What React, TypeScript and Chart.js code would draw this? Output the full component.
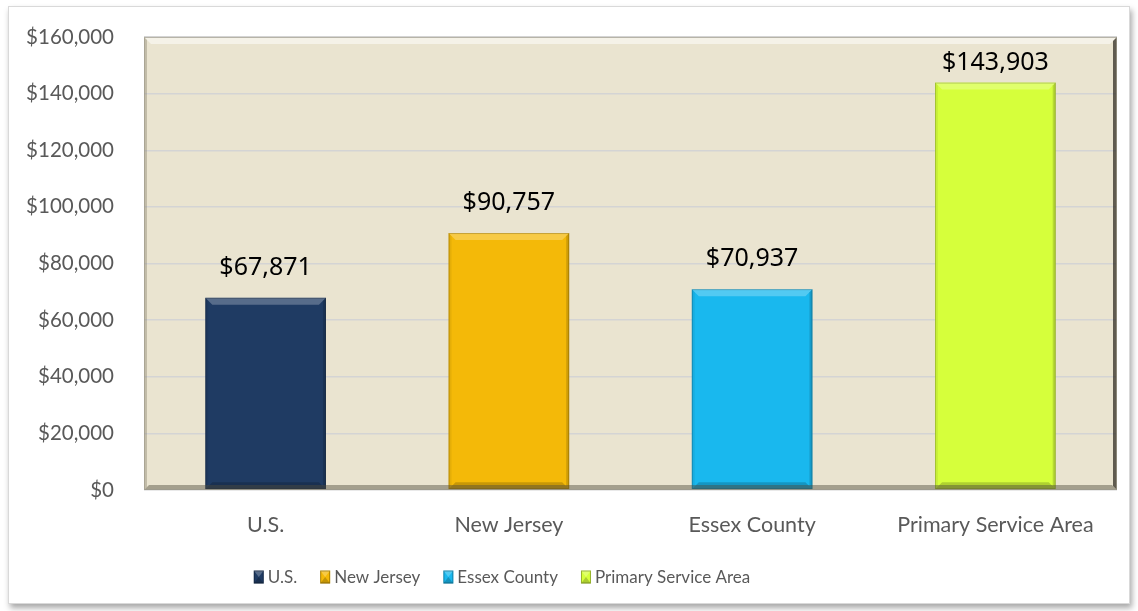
import React, { useEffect, useRef } from "react";
import { Chart, registerables } from "chart.js";

Chart.register(...registerables);

const categories = ["U.S.", "New Jersey", "Essex County", "Primary Service Area"];
const incomeValues = [67871, 90757, 70937, 143903];
const barColors = ["#1F3B63", "#F4B908", "#19B8EE", "#D6FF3B"];
const yTickMax = 160000;
const yTickStep = 20000;

const fmt = (v: number) => "$" + Number(v).toLocaleString("en-US");

const poly = (ctx: any, pts: number[][], color: string) => {
  ctx.beginPath();
  ctx.moveTo(pts[0][0], pts[0][1]);
  for (let i = 1; i < pts.length; i++) ctx.lineTo(pts[i][0], pts[i][1]);
  ctx.closePath();
  ctx.fillStyle = color;
  ctx.fill();
};

const plotBgPlugin = {
  id: "plotBg",
  beforeDraw(chart: any) {
    const { ctx, chartArea: a } = chart;
    ctx.save();
    ctx.fillStyle = "#EAE4D0";
    ctx.fillRect(a.left, a.top, a.right - a.left, a.bottom - a.top);
    ctx.restore();
  },
  afterDraw(chart: any) {
    const { ctx, chartArea: a } = chart;
    const b = 7;
    const L = a.left, R = a.right, T = a.top, B = a.bottom;
    ctx.save();
    poly(ctx, [[L, T], [R, T], [R - b, T + b], [L + b, T + b]], "rgba(255,255,255,0.5)");
    poly(ctx, [[L, T], [L + 3, T + 3], [L + 3, B - 3], [L, B]], "rgba(120,115,95,0.35)");
    poly(ctx, [[R, T], [R, B], [R - 4, B - 4], [R - 4, T + 4]], "rgba(50,46,38,0.75)");
    poly(ctx, [[L, B], [R, B], [R - 5, B - 5], [L + 5, B - 5]], "rgba(80,76,60,0.45)");
    ctx.strokeStyle = "rgba(160,155,140,0.7)";
    ctx.lineWidth = 1;
    ctx.strokeRect(L + 0.5, T + 0.5, R - L - 1, B - T - 1);
    ctx.restore();
  },
};

const barBevelPlugin = {
  id: "barBevel",
  afterDatasetsDraw(chart: any) {
    const { ctx } = chart;
    const meta = chart.getDatasetMeta(0);
    ctx.save();
    meta.data.forEach((el: any) => {
      const p = el.getProps(["x", "y", "base", "width"], true);
      const L = p.x - p.width / 2, R = p.x + p.width / 2, T = p.y, B = p.base;
      const b = 7;
      poly(ctx, [[L, T], [R, T], [R - b, T + b], [L + b, T + b]], "rgba(255,255,255,0.25)");
      poly(ctx, [[R, T], [R, B], [R - 3, B - 3], [R - 3, T + 3]], "rgba(0,0,0,0.15)");
      poly(ctx, [[L, T], [L + 3, T + 3], [L + 3, B - 3], [L, B]], "rgba(0,0,0,0.06)");
      poly(ctx, [[L, B], [R, B], [R - b, B - b], [L + b, B - b]], "rgba(0,0,0,0.18)");
      ctx.strokeStyle = "rgba(0,0,0,0.2)";
      ctx.lineWidth = 1;
      ctx.strokeRect(L + 0.5, T + 0.5, R - L - 1, B - T - 1);
    });
    ctx.restore();
  },
};

const dataLabelPlugin = {
  id: "dataLabels",
  afterDraw(chart: any) {
    const { ctx, chartArea } = chart;
    const meta = chart.getDatasetMeta(0);
    const vals = chart.data.datasets[0].data;
    ctx.save();
    ctx.font = "25px 'Noto Sans'";
    ctx.fillStyle = "#000000";
    ctx.textAlign = "center";
    ctx.textBaseline = "middle";
    meta.data.forEach((el: any, i: number) => {
      const y = Math.max(el.y - 30, chartArea.top + 26);
      ctx.fillText(fmt(vals[i]), el.x, y);
    });
    ctx.restore();
  },
};

const legendCenterX = 493;
const legendCenterY = 570;

const customLegendPlugin = {
  id: "customLegend",
  afterDraw(chart: any) {
    const { ctx } = chart;
    ctx.save();
    ctx.font = "17px Lato";
    ctx.textBaseline = "middle";
    ctx.textAlign = "left";
    const boxW = 10, boxH = 13, gapText = 4, gapItem = 23;
    const widths = categories.map((c) => ctx.measureText(c).width);
    const total =
      widths.reduce((s, w) => s + w, 0) + categories.length * (boxW + gapText) + (categories.length - 1) * gapItem;
    let x = legendCenterX - total / 2;
    const y = legendCenterY;
    categories.forEach((c, i) => {
      const bx = x, by = y - boxH / 2;
      ctx.fillStyle = barColors[i];
      ctx.fillRect(bx, by, boxW, boxH);
      poly(ctx, [[bx, by], [bx + boxW, by], [bx + boxW / 2, by + boxH / 2]], "rgba(255,255,255,0.25)");
      poly(ctx, [[bx, by + boxH], [bx + boxW, by + boxH], [bx + boxW / 2, by + boxH / 2]], "rgba(0,0,0,0.2)");
      ctx.strokeStyle = "rgba(0,0,0,0.3)";
      ctx.lineWidth = 1;
      ctx.strokeRect(bx + 0.5, by + 0.5, boxW - 1, boxH - 1);
      ctx.fillStyle = "#595959";
      ctx.fillText(c, bx + boxW + gapText, y + 1);
      x += boxW + gapText + widths[i] + gapItem;
    });
    ctx.restore();
  },
};

export default function App() {
  const ref = useRef<HTMLCanvasElement | null>(null);
  useEffect(() => {
    if (!ref.current) return;
    const chart = new Chart(ref.current, {
      type: "bar",
      data: {
        labels: categories,
        datasets: [
          {
            label: "Median Household Income",
            data: incomeValues,
            backgroundColor: barColors,
            borderWidth: 0,
            barPercentage: 0.62,
            categoryPercentage: 0.8,
          },
        ],
      },
      options: {
        responsive: false,
        animation: false,
        layout: { padding: { top: 30, right: 12, bottom: 0, left: 0 } },
        scales: {
          x: {
            grid: { display: false, drawTicks: false },
            border: { display: false },
            ticks: { color: "#595959", font: { family: "Lato", size: 21.5 }, padding: 22 },
            afterFit(scale: any) {
              scale.height = 113;
            },
          },
          y: {
            min: 0,
            max: yTickMax,
            grid: { color: "#D4D4D4", drawTicks: false, lineWidth: 1.5 },
            border: { display: false },
            ticks: {
              stepSize: yTickStep,
              color: "#595959",
              font: { family: "Lato", size: 20.5 },
              padding: 30,
              callback: (v: any) => fmt(v),
            },
            afterFit(scale: any) {
              scale.width = 135;
              scale.paddingTop = 12;
              scale.paddingBottom = 12;
            },
          },
        },
        plugins: {
          tooltip: { enabled: false },
          legend: { display: false },
        },
      },
      plugins: [plotBgPlugin, barBevelPlugin, dataLabelPlugin, customLegendPlugin],
    });
    return () => chart.destroy();
  }, []);

  return (
    <div style={{ position: "absolute", left: 0, top: 0, width: 1138, height: 611, background: "#fff" }}>
      <div
        style={{
          position: "absolute",
          left: 8,
          top: 6,
          width: 1120,
          height: 596,
          border: "1px solid #D9D9D9",
          boxShadow: "2px 4px 6px rgba(0,0,0,0.35)",
          background: "#fff",
        }}
      >
        <canvas ref={ref} width={1120} height={596} style={{ display: "block" }} />
      </div>
    </div>
  );
}
